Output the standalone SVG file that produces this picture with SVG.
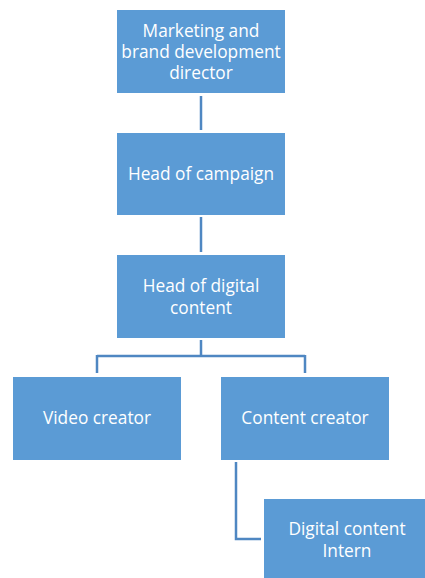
<svg xmlns="http://www.w3.org/2000/svg" width="425" height="578" viewBox="0 0 425 578">
<style>
.box{fill:#5B9BD5;stroke:#ffffff;stroke-width:1}
.t{font-family:"Open Sans","Liberation Sans",sans-serif;font-size:17.3px;fill:#ffffff;text-anchor:middle;dominant-baseline:central}
.c{fill:none;stroke:#4F87C2;stroke-width:2.5}
</style>
<rect width="425" height="578" fill="#ffffff"/>
<g id="connectors">
<path class="c" d="M201,96V130"/>
<path class="c" d="M201,217V252"/>
<path class="c" d="M201,340V356M97,356H305M97,355V373M305,355V373"/>
<path class="c" d="M236,462V539H261"/>
</g>
<g id="n1"><rect class="box" x="116.5" y="9.5" width="169" height="84"/>
<text class="t" x="201" y="30">Marketing and</text><text class="t" x="201" y="51">brand development</text><text class="t" x="201" y="72">director</text></g>
<g id="n2"><rect class="box" x="116.5" y="132.5" width="169" height="83"/>
<text class="t" x="201" y="173">Head of campaign</text></g>
<g id="n3"><rect class="box" x="116.5" y="254.5" width="169" height="84"/>
<text class="t" x="201" y="285">Head of digital</text><text class="t" x="201" y="307">content</text></g>
<g id="n4"><rect class="box" x="12.5" y="376.5" width="169" height="84"/>
<text class="t" x="97" y="417">Video creator</text></g>
<g id="n5"><rect class="box" x="220.5" y="376.5" width="169" height="84"/>
<text class="t" x="305" y="417">Content creator</text></g>
<g id="n6"><rect class="box" x="263.5" y="498.5" width="169" height="84"/>
<text class="t" x="347" y="528">Digital content</text><text class="t" x="347" y="550">Intern</text></g>
</svg>
